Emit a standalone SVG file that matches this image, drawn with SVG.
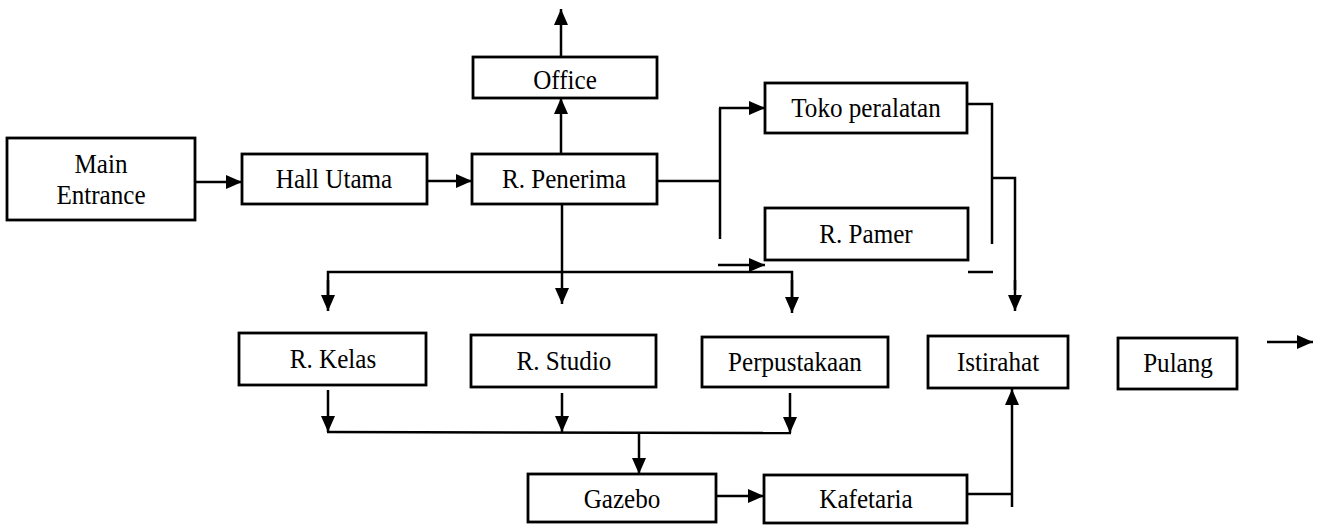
<svg xmlns="http://www.w3.org/2000/svg" width="1322" height="525" viewBox="0 0 1322 525">
  <style>
    .box { fill: #ffffff; stroke: #000000; stroke-width: 2.8; }
    .lbl { font-family: "Liberation Serif", "Times New Roman", serif; font-size: 27px; fill: #000000; text-anchor: middle;
           transform-box: fill-box; transform-origin: center; transform: scaleX(0.93); }
    .wire { fill: none; stroke: #000000; stroke-width: 2.5; }
    .arr { fill: none; stroke: #000000; stroke-width: 2.5; marker-end: url(#head); }
  </style>
  <defs>
    <marker id="head" markerUnits="userSpaceOnUse" markerWidth="16" markerHeight="14" refX="16" refY="7" orient="auto">
      <path d="M0,0 L16,7 L0,14 z" fill="#000000"/>
    </marker>
  </defs>
  <rect width="1322" height="525" fill="#ffffff"/>

  <g id="connectors">
    <!-- entrance path -->
    <line class="arr" x1="195" y1="182" x2="242" y2="182"/>
    <line class="arr" x1="427" y1="181" x2="472" y2="181"/>
    <line class="arr" x1="561" y1="154" x2="561" y2="98"/>
    <line class="arr" x1="561" y1="57" x2="561" y2="9"/>
    <!-- reception down to the teaching rooms -->
    <line class="arr" x1="562" y1="204" x2="562" y2="304"/>
    <polyline class="wire" points="328,300 328,272 792,272 792,300"/>
    <line class="arr" x1="328" y1="280" x2="328" y2="311"/>
    <line class="arr" x1="792" y1="280" x2="792" y2="313"/>
    <!-- reception to shop and exhibition -->
    <line class="wire" x1="657" y1="181" x2="720" y2="181"/>
    <line class="wire" x1="720" y1="108" x2="720" y2="239"/>
    <line class="arr" x1="719" y1="108" x2="765" y2="108"/>
    <line class="arr" x1="718" y1="265" x2="765" y2="265"/>
    <!-- shop / exhibition to rest area -->
    <polyline class="wire" points="967,104 992,104 992,244"/>
    <polyline class="wire" points="992,178 1015,178 1015,290"/>
    <line class="arr" x1="1015" y1="280" x2="1015" y2="311"/>
    <line class="wire" x1="968" y1="272" x2="993" y2="272"/>
    <!-- teaching rooms to gazebo -->
    <line class="arr" x1="328" y1="390" x2="328" y2="432"/>
    <line class="arr" x1="562" y1="393" x2="562" y2="432"/>
    <line class="arr" x1="790" y1="393" x2="790" y2="433"/>
    <line class="wire" x1="327" y1="432" x2="791" y2="433"/>
    <line class="arr" x1="639" y1="432" x2="639" y2="474"/>
    <!-- gazebo, cafeteria, rest -->
    <line class="arr" x1="716" y1="496" x2="764" y2="496"/>
    <line class="wire" x1="967" y1="494" x2="1012" y2="494"/>
    <line class="arr" x1="1012" y1="507" x2="1012" y2="389"/>
    <!-- exit -->
    <line class="arr" x1="1267" y1="342" x2="1313" y2="342"/>
  </g>

  <g id="main-entrance">
    <rect class="box" x="7" y="138" width="188" height="82"/>
    <text class="lbl" x="101" y="173">Main</text>
    <text class="lbl" x="101" y="204">Entrance</text>
  </g>
  <g id="hall-utama">
    <rect class="box" x="242" y="154" width="185" height="50"/>
    <text class="lbl" x="334" y="188">Hall Utama</text>
  </g>
  <g id="r-penerima">
    <rect class="box" x="472" y="154" width="185" height="50"/>
    <text class="lbl" x="564" y="188">R. Penerima</text>
  </g>
  <g id="office">
    <rect class="box" x="473" y="57" width="184" height="41"/>
    <text class="lbl" x="565" y="89">Office</text>
  </g>
  <g id="toko-peralatan">
    <rect class="box" x="765" y="83" width="202" height="50"/>
    <text class="lbl" x="866" y="117">Toko peralatan</text>
  </g>
  <g id="r-pamer">
    <rect class="box" x="765" y="208" width="203" height="52"/>
    <text class="lbl" x="866" y="243">R. Pamer</text>
  </g>
  <g id="r-kelas">
    <rect class="box" x="239" y="333" width="187" height="52"/>
    <text class="lbl" x="333" y="368">R. Kelas</text>
  </g>
  <g id="r-studio">
    <rect class="box" x="471" y="335" width="185" height="52"/>
    <text class="lbl" x="564" y="370">R. Studio</text>
  </g>
  <g id="perpustakaan">
    <rect class="box" x="702" y="337" width="186" height="50"/>
    <text class="lbl" x="795" y="371">Perpustakaan</text>
  </g>
  <g id="istirahat">
    <rect class="box" x="928" y="336" width="140" height="52"/>
    <text class="lbl" x="998" y="371">Istirahat</text>
  </g>
  <g id="pulang">
    <rect class="box" x="1118" y="338" width="119" height="51"/>
    <text class="lbl" x="1178" y="372">Pulang</text>
  </g>
  <g id="gazebo">
    <rect class="box" x="528" y="474" width="188" height="48"/>
    <text class="lbl" x="622" y="508">Gazebo</text>
  </g>
  <g id="kafetaria">
    <rect class="box" x="764" y="475" width="203" height="48"/>
    <text class="lbl" x="866" y="508">Kafetaria</text>
  </g>
</svg>
